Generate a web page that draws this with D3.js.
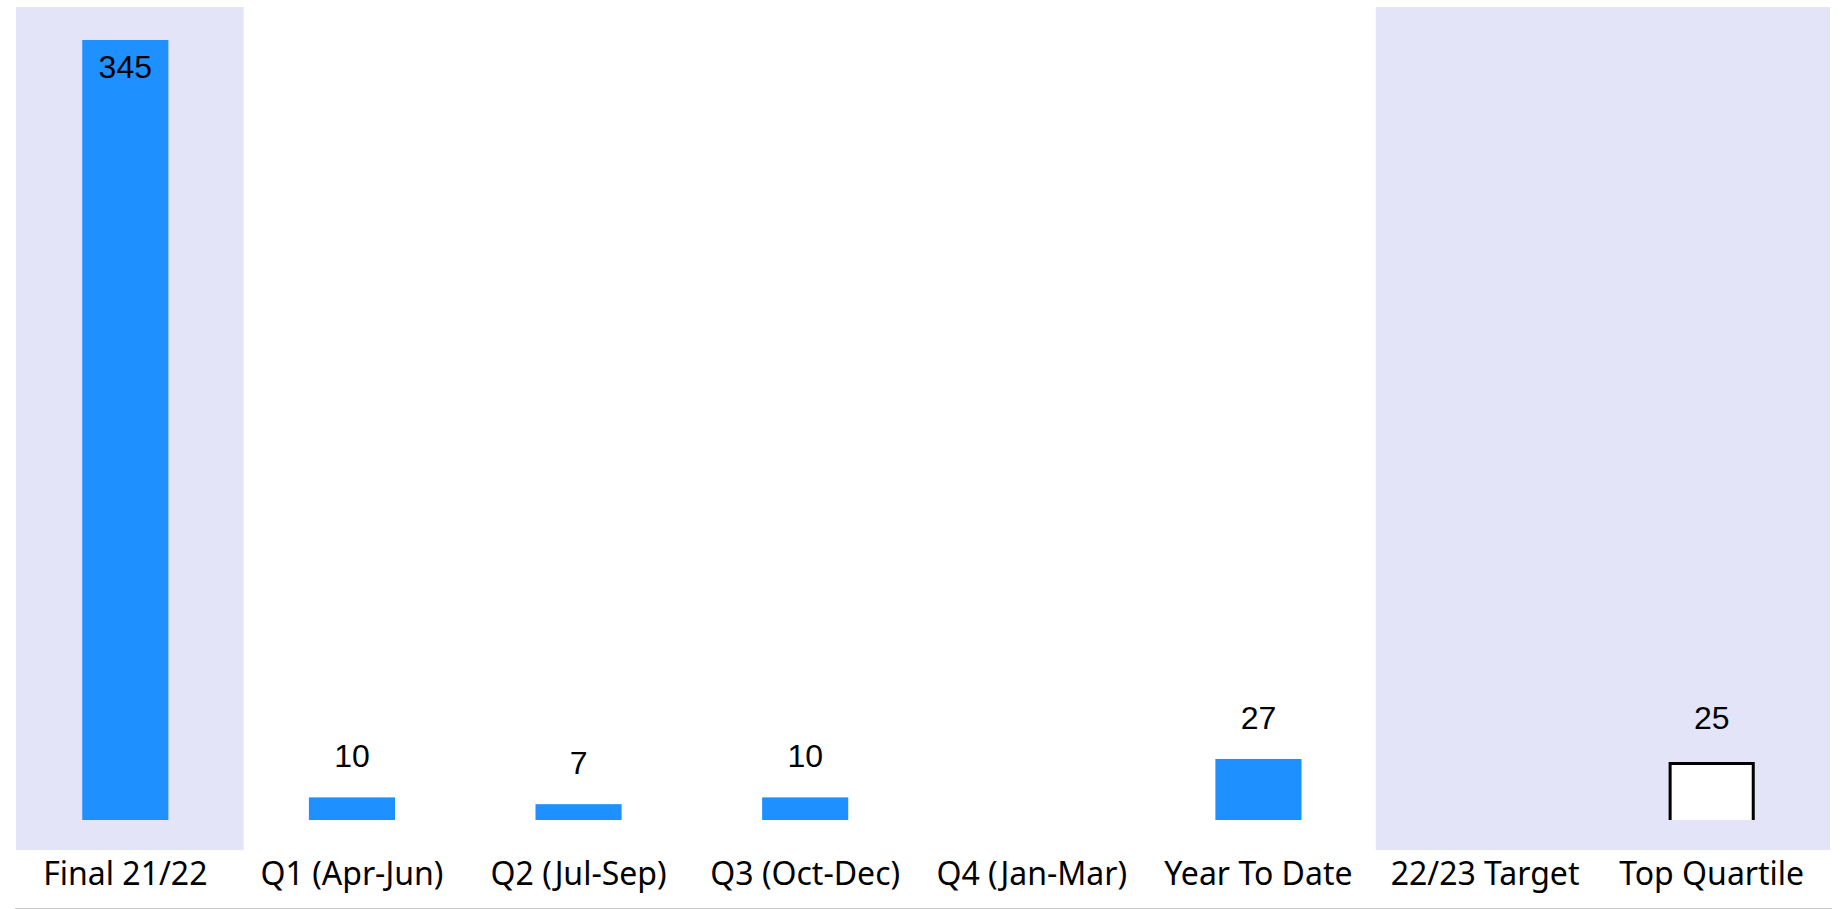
<!DOCTYPE html>
<html>
<head>
<meta charset="utf-8">
<script src="https://cdn.jsdelivr.net/npm/d3@7"></script>
<style>
  html, body { margin: 0; padding: 0; background: #ffffff; }
  svg { display: block; }
</style>
</head>
<body>
<svg id="chart" width="1842" height="909"></svg>
<script>
// ---- data ----
const categories = ["Final 21/22", "Q1 (Apr-Jun)", "Q2 (Jul-Sep)", "Q3 (Oct-Dec)", "Q4 (Jan-Mar)", "Year To Date", "22/23 Target", "Top Quartile"];
const values = [345, 10, 7, 10, null, 27, null, 25];
const barKinds = ["solid", "solid", "solid", "solid", "solid", "solid", "solid", "outline"];
const shadedCategories = ["Final 21/22", "22/23 Target", "Top Quartile"];

// ---- layout ----
const W = 1842, H = 909;
const svg = d3.select("#chart");

const x = d3.scaleBand().domain(categories).range([12, 1825]).padding(0);
const y = d3.scaleLinear().domain([0, 345]).range([820, 40]);
const step = x.step();
const barW = step * 0.38;

// background shading bands
svg.append("g").selectAll("rect")
  .data(shadedCategories)
  .join("rect")
  .attr("x", d => x(d) + 4)
  .attr("y", 7)
  .attr("width", step + 1)
  .attr("height", 843)
  .attr("fill", "#e4e4f8");

const rows = categories.map((c, i) => ({ c, v: values[i], kind: barKinds[i] }))
  .filter(d => d.v != null);

// solid bars
svg.append("g").selectAll("rect")
  .data(rows.filter(d => d.kind === "solid"))
  .join("rect")
  .attr("x", d => x(d.c) + step / 2 - barW / 2)
  .attr("y", d => y(d.v))
  .attr("width", barW)
  .attr("height", d => y(0) - y(d.v))
  .attr("fill", "#1e90ff");

// outline (target-like) bars: white with black border, open at the base
svg.append("g").selectAll("path")
  .data(rows.filter(d => d.kind === "outline"))
  .join("path")
  .attr("d", d => {
    const x0 = x(d.c) + step / 2 - barW / 2 + 1.5, x1 = x0 + barW - 3;
    const yt = y(d.v), yb = y(0);
    return `M${x0},${yb}V${yt}H${x1}V${yb}`;
  })
  .attr("fill", "#ffffff")
  .attr("stroke", "#000000")
  .attr("stroke-width", 3);

// value labels
svg.append("g").selectAll("text")
  .data(rows)
  .join("text")
  .attr("x", d => x(d.c) + step / 2)
  .attr("y", d => (y(d.v) - 32 < 30) ? y(d.v) + 38 : y(d.v) - (d.kind === "outline" ? 34 : 30))
  .attr("text-anchor", "middle")
  .attr("font-family", "'Liberation Sans', Arial, sans-serif")
  .attr("font-size", 32)
  .attr("fill", "#000")
  .text(d => d3.format("d")(d.v));

// category axis
const axis = svg.append("g")
  .attr("transform", "translate(0,885)")
  .call(d3.axisBottom(x).tickSize(0).tickPadding(0));
axis.select(".domain").remove();
axis.selectAll("text")
  .attr("y", 0)
  .attr("dy", 0)
  .attr("font-family", "'Noto Sans', 'Open Sans', sans-serif")
  .attr("font-size", 32)
  .attr("fill", "#000");

// bottom rule
svg.append("line")
  .attr("x1", 15).attr("x2", 1832)
  .attr("y1", 908.5).attr("y2", 908.5)
  .attr("stroke", "#c8c8c8")
  .attr("stroke-width", 1);
</script>
</body>
</html>
